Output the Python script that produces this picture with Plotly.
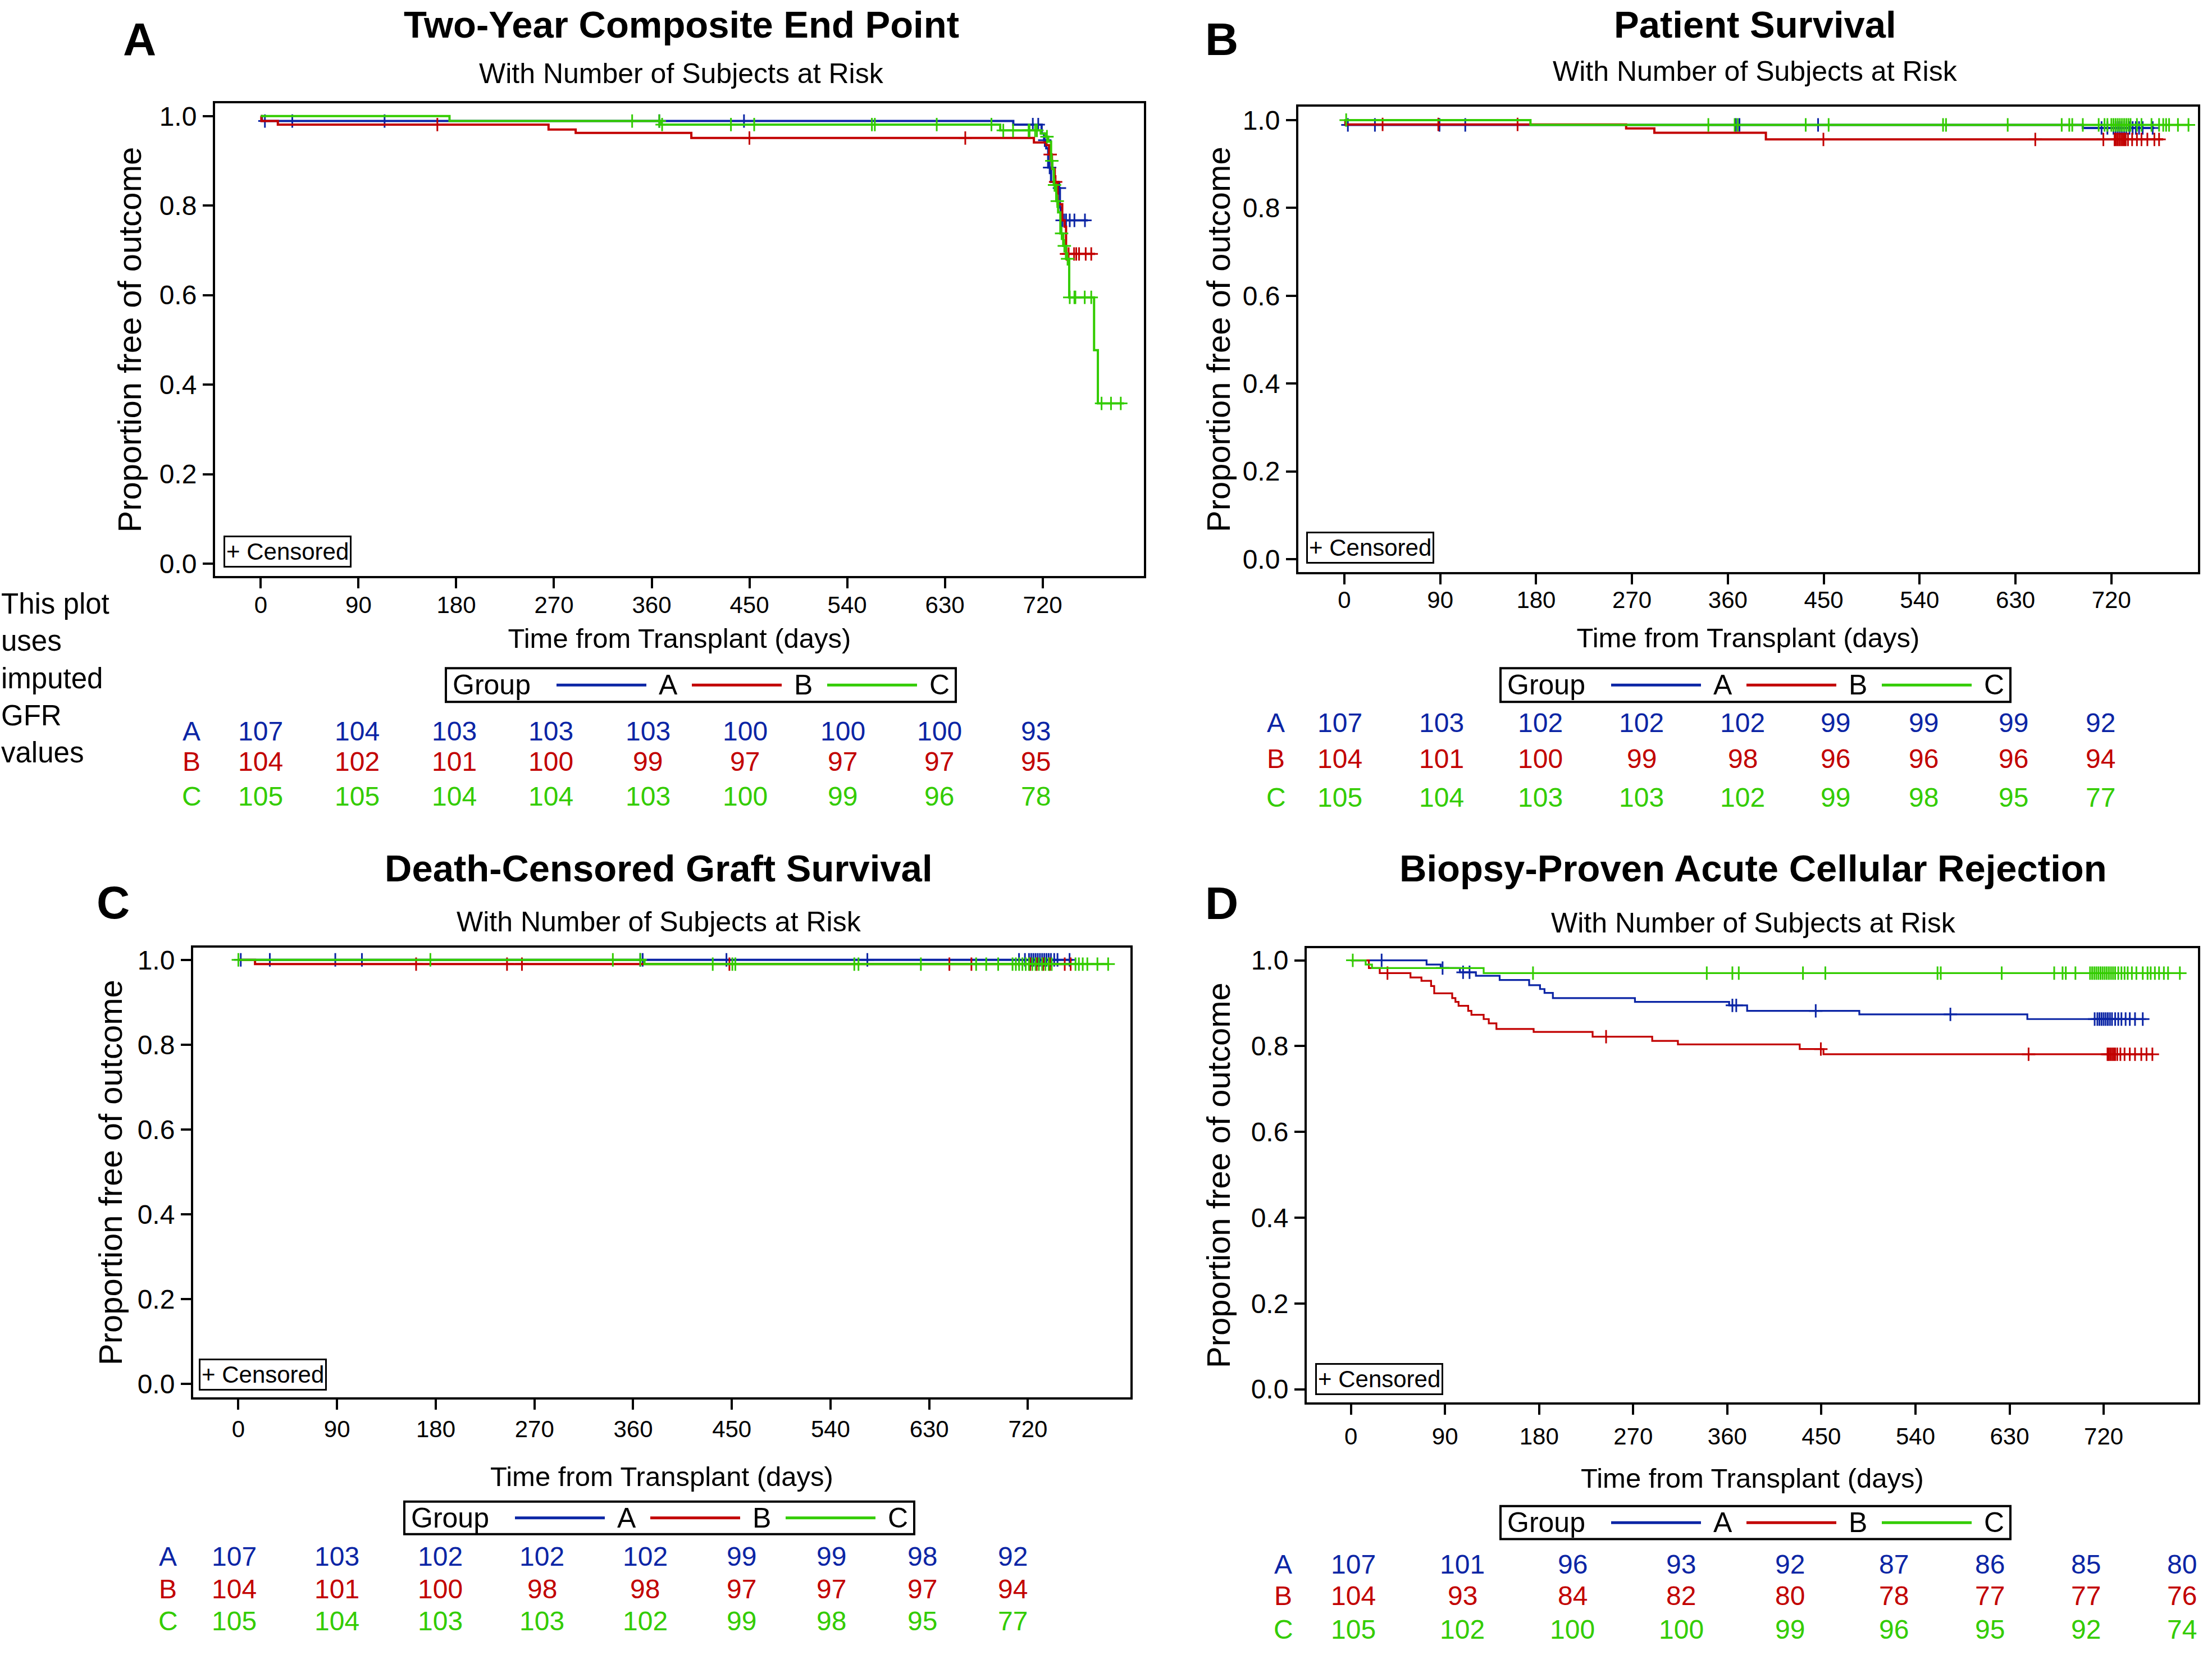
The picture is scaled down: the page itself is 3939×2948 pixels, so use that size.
import plotly.graph_objects as go

W, H = 3939, 2948
FONT = "Liberation Sans, Arial, Helvetica, sans-serif"
GROUPS = ["A", "B", "C"]
COLORS = {"A": "#0b25a5", "B": "#c20000", "C": "#33cc00"}

X_TICKS = [0, 90, 180, 270, 360, 450, 540, 630, 720]
Y_TICKS = [0.0, 0.2, 0.4, 0.6, 0.8, 1.0]

# ------------------------------------------------------------------ Panel A: Two-Year Composite End Point
compA_A_times = [1, 693, 719.1, 721.4, 723.4, 725.2, 727.8, 734.7, 735.9, 736.7]
compA_A_surv = [0.989, 0.981, 0.961, 0.946, 0.928, 0.885, 0.853, 0.839, 0.796, 0.767]
compA_A_end = 761.7
compA_A_cens = [3.8, 29, 114, 367, 445, 711, 716, 722, 726.5, 735.5, 738, 739.8, 741.6, 745, 749.3, 759]

compA_B_times = [0.5, 15.7, 265, 290, 396.5, 712, 723.4, 726, 728.6, 731.2, 733.8, 738.1, 740.3, 741.6]
compA_B_surv = [0.989, 0.981, 0.970, 0.9625, 0.951, 0.941, 0.935, 0.914, 0.882, 0.853, 0.803, 0.767, 0.753, 0.692]
compA_B_end = 768.3
compA_B_cens = [162.6, 450, 648.8, 727, 732, 742, 744, 749, 751, 753.6, 759.7, 764.8]

compA_C_times = [173.8, 369, 681, 718.3, 722.6, 725.2, 727.8, 729, 730.3, 732.6, 734.3, 736.4, 739, 741.6,
                 744.5, 767.4, 770.9]
compA_C_surv = [0.989, 0.981, 0.968, 0.961, 0.954, 0.943, 0.900, 0.882, 0.846, 0.810, 0.785, 0.738, 0.710,
                0.681, 0.595, 0.477, 0.358]
compA_C_end = 795
compA_C_cens = [342, 367, 369.6, 433, 454.4, 562.8, 565.5, 622.5, 672.9, 683.8, 692.8, 707.1, 708, 713.1,
                714.8, 724, 728.5, 731, 733.5, 737.5, 740, 743, 745, 749.3, 750.2, 758.8, 764.8, 774.3,
                783, 792]

compA_risk_A = [107, 104, 103, 103, 103, 100, 100, 100, 93]
compA_risk_B = [104, 102, 101, 100, 99, 97, 97, 97, 95]
compA_risk_C = [105, 105, 104, 104, 103, 100, 99, 96, 78]

# ------------------------------------------------------------------ Panel B: Patient Survival
pat_A_times = [1, 693.2]
pat_A_surv = [0.989, 0.982]
pat_A_end = 760.4
pat_A_cens = [3.3, 28.7, 89.3, 113.5, 367.5, 370.9, 444.7, 710.8, 716.3, 722, 724, 726, 728, 730, 732,
              734, 737, 740, 743, 746, 749.4, 758.8]

pat_B_times = [1, 264.5, 291, 395.7]
pat_B_surv = [0.990, 0.981, 0.971, 0.956]
pat_B_end = 768.7
pat_B_cens = [35.9, 88.2, 162.6, 449.7, 648.6, 712.5, 723, 724.5, 726, 727.5, 729, 730.5, 732, 733.5,
              735.6, 739.5, 744, 748.3, 753.8, 760.4, 764.8]

pat_C_times = [174.7]
pat_C_surv = [0.989]
pat_C_end = 793.5
pat_C_cens = [1.7, 341.7, 366.4, 369.2, 433.1, 454.6, 562, 564.8, 622.7, 673.4, 680.5, 683.3, 693.2,
              708.1, 713.6, 716.3, 720, 722, 724, 726, 728, 730, 732, 734, 736, 738, 744, 748.3, 757.7,
              764.8, 768.7, 771.4, 774.2, 782.5, 792.4]

pat_risk_A = [107, 103, 102, 102, 102, 99, 99, 99, 92]
pat_risk_B = [104, 101, 100, 99, 98, 96, 96, 96, 94]
pat_risk_C = [105, 104, 103, 103, 102, 99, 98, 95, 77]

# ------------------------------------------------------------------ Panel C: Death-Censored Graft Survival
graft_A_times = []
graft_A_surv = []
graft_A_end = 760.7
graft_A_cens = [2.2, 28.7, 88.4, 112.7, 366.5, 368.7, 445.1, 573.6, 711.9, 717.3, 721, 723, 725, 727,
                729, 731, 733, 735, 737, 739, 741, 744, 747, 758]

graft_B_times = [15.2]
graft_B_surv = [0.990]
graft_B_end = 759
graft_B_cens = [162.1, 245, 258.6, 447.8, 648.4, 668.5, 722, 728, 734, 740, 753.6, 759]

graft_C_times = [370.3]
graft_C_surv = [0.990]
graft_C_end = 793.2
graft_C_cens = [0, 175.1, 341.5, 366.5, 432.6, 450.5, 453.2, 561.7, 565.5, 622.4, 672.8, 682, 692.9,
                706, 709, 712, 715, 718, 721, 724, 727, 730, 733, 736, 739, 741.7, 763.4, 766.5, 770,
                774.2, 783.4, 793.2]

graft_risk_A = [107, 103, 102, 102, 102, 99, 99, 98, 92]
graft_risk_B = [104, 101, 100, 98, 98, 97, 97, 97, 94]
graft_risk_C = [105, 104, 103, 103, 102, 99, 98, 95, 77]

# ------------------------------------------------------------------ Panel D: Biopsy-Proven Acute Cellular Rejection
rej_A_times = [72.4, 85.9, 104.3, 119.6, 142.3, 170.5, 180.9, 185.2, 193.2, 271.7, 361.8, 379, 486.3, 647]
rej_A_surv = [0.990, 0.982, 0.972, 0.964, 0.954, 0.942, 0.933, 0.924, 0.912, 0.903, 0.895, 0.882, 0.874,
              0.863]
rej_A_end = 760.5
rej_A_cens = [29.4, 87.7, 107.3, 113.5, 364.9, 368.6, 444.6, 573.4, 711.4, 714, 716, 718, 720, 722, 724,
              726, 728, 731, 734, 737, 741, 745, 750, 757.4]

rej_B_times = [17.2, 27.6, 57, 67.5, 76.7, 79.7, 96.9, 100, 103, 112.2, 115.3, 127, 131.9, 139.2, 174.8,
               231.2, 288.2, 312.8, 429.3, 452]
rej_B_surv = [0.982, 0.970, 0.960, 0.952, 0.940, 0.923, 0.912, 0.903, 0.894, 0.882, 0.873, 0.863, 0.853,
              0.840, 0.833, 0.822, 0.812, 0.804, 0.793, 0.781]
rej_B_end = 766.6
rej_B_cens = [35, 244.1, 449.5, 648.2, 723.7, 725, 726.5, 728, 729.5, 731, 733, 736, 740, 745, 750, 756,
              761, 766.6]

rej_C_times = [14.1, 20.2, 127]
rej_C_surv = [0.990, 0.982, 0.970]
rej_C_end = 794.2
rej_C_cens = [1.8, 174.2, 340.4, 364.9, 371, 432.4, 453.8, 561.1, 564.2, 622.5, 672.7, 680.7, 683.8, 693,
              707, 709, 711, 713, 715, 717, 719, 721, 723, 725, 727, 729, 731, 734, 737, 740, 743, 747,
              751.3, 757.4, 762, 765, 769, 773, 777.6, 781.6, 792.9]

rej_risk_A = [107, 101, 96, 93, 92, 87, 86, 85, 80]
rej_risk_B = [104, 93, 84, 82, 80, 78, 77, 77, 76]
rej_risk_C = [105, 102, 100, 100, 99, 96, 95, 92, 74]

# ------------------------------------------------------------------ text
TITLES = ["Two-Year Composite End Point", "Patient Survival",
          "Death-Censored Graft Survival", "Biopsy-Proven Acute Cellular Rejection"]
LETTERS = ["A", "B", "C", "D"]
SUBTITLE = "With Number of Subjects at Risk"
Y_TITLE = "Proportion free of outcome"
X_TITLE = "Time from Transplant (days)"
LEGEND_TITLE = "Group"
NOTE = "This plot<br>uses<br>imputed<br>GFR<br>values"

# ------------------------------------------------------------------ layout geometry (pixels)
# title: (x, y, yanchor); y=None -> pinned to the top edge of the page
panels = [
    dict(frame=(383, 2037, 181, 1025), xr=(-42.1, 813.3), yr=(-0.0275, 1.028),
         title=(1213, None), sub=(1213, 127), letter=(248, 66),
         xlab_off=-6, xtitle_off=20, ytitle_off=14,
         legend=(794, 1190, 60), rows=(1302, 1357, 1419), label_x=341,
         cols=[0, 89, 178, 267, 356.5, 446, 536, 625, 713.5], cens_box=(0.009, 0.018),
         data={"A": (compA_A_times, compA_A_surv, compA_A_end, compA_A_cens, compA_risk_A),
               "B": (compA_B_times, compA_B_surv, compA_B_end, compA_B_cens, compA_risk_B),
               "C": (compA_C_times, compA_C_surv, compA_C_end, compA_C_cens, compA_risk_C)}),
    dict(frame=(2312, 3914, 187, 1018), xr=(-43.2, 801.3), yr=(-0.0293, 1.030),
         title=(3125, None), sub=(3125, 123), letter=(2175, 66),
         xlab_off=-8, xtitle_off=28, ytitle_off=4,
         legend=(2672, 1190, 60), rows=(1287, 1352, 1421), label_x=2272,
         cols=[-4, 91, 184, 279, 374, 461, 544, 628, 710], cens_box=(0.0087, 0.018),
         data={"A": (pat_A_times, pat_A_surv, pat_A_end, pat_A_cens, pat_risk_A),
               "B": (pat_B_times, pat_B_surv, pat_B_end, pat_B_cens, pat_risk_B),
               "C": (pat_C_times, pat_C_surv, pat_C_end, pat_C_cens, pat_risk_C)}),
    dict(frame=(344, 2013, 1689, 2493), xr=(-41.2, 813.5), yr=(-0.0317, 1.029),
         title=(1173, 1547), sub=(1173, 1643), letter=(201, 1608),
         xlab_off=-2, xtitle_off=46, ytitle_off=9,
         legend=(720, 2679, 58), rows=(2777, 2835, 2892), label_x=299,
         cols=[-4, 90, 184, 277, 371, 459, 541, 624, 706], cens_box=(0.006, 0.016),
         data={"A": (graft_A_times, graft_A_surv, graft_A_end, graft_A_cens, graft_risk_A),
               "B": (graft_B_times, graft_B_surv, graft_B_end, graft_B_cens, graft_risk_B),
               "C": (graft_C_times, graft_C_surv, graft_C_end, graft_C_cens, graft_risk_C)}),
    dict(frame=(2327, 3914, 1690, 2502), xr=(-42.2, 810.2), yr=(-0.031, 1.0284),
         title=(3122, 1547), sub=(3122, 1645), letter=(2175, 1609),
         xlab_off=2, xtitle_off=36, ytitle_off=19,
         legend=(2672, 2687, 59), rows=(2791, 2847, 2907), label_x=2285,
         cols=[2.4, 106.6, 212, 316, 420, 519.5, 611, 703, 795], cens_box=(0.0094, 0.017),
         data={"A": (rej_A_times, rej_A_surv, rej_A_end, rej_A_cens, rej_risk_A),
               "B": (rej_B_times, rej_B_surv, rej_B_end, rej_B_cens, rej_risk_B),
               "C": (rej_C_times, rej_C_surv, rej_C_end, rej_C_cens, rej_risk_C)}),
]

# legend key geometry, relative to the key box (pixels)
KEY_W = 908
KEY_TITLE_DX = 10
KEY_LINE_DX = 197
KEY_LINE_LEN = 160
KEY_TEXT_DX = 377
KEY_STEP = 241


def px(x):
    return x / W


def py(y):
    return 1 - y / H


def surv_at(times, surv, t):
    s = 1.0
    for ti, si in zip(times, surv):
        if ti <= t:
            s = si
    return s


fig = go.Figure()
annotations = []
shapes = []
layout = dict(width=W, height=H, margin=dict(l=0, r=0, t=0, b=0),
              paper_bgcolor="white", plot_bgcolor="white", showlegend=False,
              font=dict(family=FONT, color="black"))

for i, p in enumerate(panels):
    n = i + 1
    sfx = "" if n == 1 else str(n)
    xa, ya = "x" + sfx, "y" + sfx
    lw = 4.0 if n < 4 else 3.2
    for g in GROUPS:
        times, surv, end, cens, risk = p["data"][g]
        xs = [0] + list(times) + [end]
        ys = [1.0] + list(surv) + [surv[-1] if surv else 1.0]
        fig.add_trace(go.Scatter(x=xs, y=ys, mode="lines", line=dict(color=COLORS[g], width=lw, shape="hv"),
                                 name=g, xaxis=xa, yaxis=ya, hoverinfo="skip"))
        fig.add_trace(go.Scatter(x=cens, y=[surv_at(times, surv, t) for t in cens], mode="markers",
                                 marker=dict(symbol="cross-thin", size=17, color=COLORS[g],
                                             line=dict(width=3, color=COLORS[g])),
                                 name=g + " censored", xaxis=xa, yaxis=ya, hoverinfo="skip"))
        # number at risk
        row_y = py(p["rows"][GROUPS.index(g)])
        for c, v in zip(p["cols"], risk):
            annotations.append(dict(x=c, xref=xa, y=row_y, yref="paper",
                                    text=str(v), showarrow=False, xanchor="center", yanchor="middle",
                                    font=dict(size=48, color=COLORS[g], family=FONT)))
        annotations.append(dict(x=px(p["label_x"]), xref="paper", y=row_y,
                                yref="paper", text=g, showarrow=False, xanchor="center", yanchor="middle",
                                font=dict(size=48, color=COLORS[g], family=FONT)))

    l, r, t, b = p["frame"]
    layout["xaxis" + sfx] = dict(
        domain=[px(l), px(r)], range=list(p["xr"]), anchor=ya, tickvals=X_TICKS, ticks="outside",
        ticklen=18, tickwidth=3.5, tickcolor="black", showline=True, linewidth=4, linecolor="black",
        mirror=True, showgrid=False, zeroline=False, ticklabelstandoff=p["xlab_off"],
        tickfont=dict(size=42, color="black", family=FONT),
        title=dict(text=X_TITLE, font=dict(size=49, color="black", family=FONT), standoff=p["xtitle_off"]))
    layout["yaxis" + sfx] = dict(
        domain=[py(b), py(t)], range=list(p["yr"]), anchor=xa, tickvals=Y_TICKS, tickformat=".1f",
        ticks="outside", ticklen=18, tickwidth=3.5, tickcolor="black", showline=True, linewidth=4,
        linecolor="black", mirror=True, showgrid=False, zeroline=False, ticklabelstandoff=1,
        tickfont=dict(size=48, color="black", family=FONT),
        title=dict(text=Y_TITLE, font=dict(size=58, color="black", family=FONT), standoff=p["ytitle_off"]))

    # group key (legend box)
    kl, kt, kh = p["legend"]
    kc = py(kt + kh / 2)
    shapes.append(dict(type="rect", xref="paper", yref="paper", x0=px(kl), x1=px(kl + KEY_W),
                       y0=py(kt), y1=py(kt + kh), line=dict(color="black", width=4), fillcolor="white",
                       layer="above"))
    annotations.append(dict(x=px(kl + KEY_TITLE_DX), y=kc, xref="paper", yref="paper", text=LEGEND_TITLE,
                            showarrow=False, xanchor="left", yanchor="middle",
                            font=dict(size=50, color="black", family=FONT)))
    for k, g in enumerate(GROUPS):
        x0 = kl + KEY_LINE_DX + k * KEY_STEP
        shapes.append(dict(type="line", xref="paper", yref="paper", x0=px(x0), x1=px(x0 + KEY_LINE_LEN),
                           y0=kc, y1=kc, line=dict(color=COLORS[g], width=5), layer="above"))
        annotations.append(dict(x=px(kl + KEY_TEXT_DX + k * KEY_STEP), y=kc, xref="paper", yref="paper",
                                text=g, showarrow=False, xanchor="left", yanchor="middle",
                                font=dict(size=50, color="black", family=FONT)))

    tx, ty = p["title"]
    if ty is None:
        t_y, t_anchor = 1.0, "top"
    else:
        t_y, t_anchor = py(ty), "middle"
    annotations.append(dict(x=px(tx), y=t_y, xref="paper", yref="paper",
                            text="<b>" + TITLES[i] + "</b>", showarrow=False, xanchor="center",
                            yanchor=t_anchor, font=dict(size=67, color="black", family=FONT)))
    annotations.append(dict(x=px(p["sub"][0]), y=py(p["sub"][1]), xref="paper", yref="paper",
                            text=SUBTITLE, showarrow=False, xanchor="center", yanchor="middle",
                            font=dict(size=50, color="black", family=FONT)))
    annotations.append(dict(x=px(p["letter"][0]), y=py(p["letter"][1]), xref="paper", yref="paper",
                            text="<b>" + LETTERS[i] + "</b>", showarrow=False, xanchor="center",
                            yanchor="middle", font=dict(size=82, color="black", family=FONT)))
    annotations.append(dict(x=p["cens_box"][0], y=p["cens_box"][1], xref=xa + " domain",
                            yref=ya + " domain", text="+ Censored", showarrow=False, xanchor="left",
                            yanchor="bottom", bordercolor="black", borderwidth=3, borderpad=2,
                            bgcolor="white", font=dict(size=42, color="black", family=FONT)))

annotations.append(dict(x=0, y=py(1208), xref="paper", yref="paper", text=NOTE, showarrow=False,
                        xanchor="left", yanchor="middle", align="left",
                        font=dict(size=51, color="black", family=FONT)))

layout["annotations"] = annotations
layout["shapes"] = shapes
fig.update_layout(**layout)
fig.write_html("out.html", config={"displayModeBar": False},
               post_script="document.body.style.margin='0px';document.body.style.overflow='hidden';")
